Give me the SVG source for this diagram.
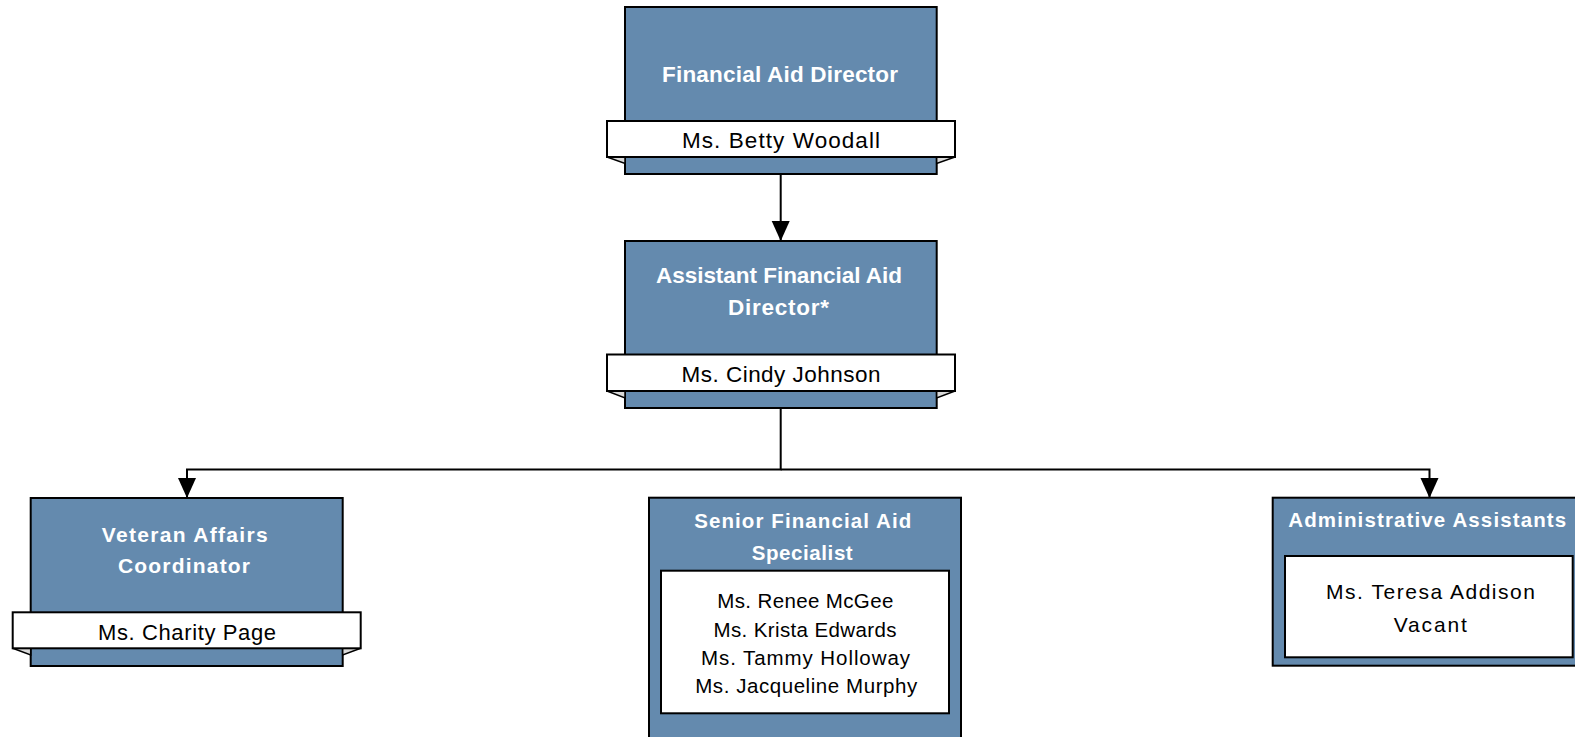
<svg xmlns="http://www.w3.org/2000/svg" width="1575" height="737" viewBox="0 0 1575 737">
<style>
.box{fill:#648aae;stroke:#000;stroke-width:2}
.band{fill:#fff;stroke:#000;stroke-width:2}
.fold{fill:#d9d9d9;stroke:#000;stroke-width:1.5;stroke-linejoin:miter}
.inner{fill:#fff;stroke:#000;stroke-width:2}
.t{font-family:"Liberation Sans",Arial,sans-serif;font-weight:bold;fill:#fff;text-anchor:middle}
.n{font-family:"Liberation Sans",Arial,sans-serif;fill:#000;text-anchor:middle}
.conn{fill:none;stroke:#000;stroke-width:2}
</style>
<defs>
<marker id="arr" markerUnits="userSpaceOnUse" markerWidth="20" markerHeight="19" refX="20" refY="9" orient="auto" viewBox="0 0 20 18">
<path d="M0,0 L20,9 L0,18 z" fill="#000"/>
</marker>
</defs>
<g id="connectors">
<path class="conn" d="M780.7,174 V241" marker-end="url(#arr)"/>
<path class="conn" d="M780.7,408 V469.5 H187 V498" marker-end="url(#arr)"/>
<path class="conn" d="M780.7,469.5 H1429.5 V498" marker-end="url(#arr)"/>
</g>
<g id="node-director">
<rect class="box" x="625" y="7" width="311.7" height="167"/>
<polygon class="fold" points="607,157 625,157 625,163.5"/>
<polygon class="fold" points="955,157 936.7,157 936.7,163.5"/>
<rect class="band" x="607" y="121" width="348" height="36"/>
<text class="t" x="780" y="81.7" font-size="22.5" textLength="236">Financial Aid Director</text>
<text class="n" x="781" y="147.7" font-size="22.5" textLength="198">Ms. Betty Woodall</text>
</g>
<g id="node-assistant">
<rect class="box" x="625" y="241" width="311.7" height="167"/>
<polygon class="fold" points="607,391 625,391 625,398"/>
<polygon class="fold" points="955,391 936.7,391 936.7,398"/>
<rect class="band" x="607" y="354.5" width="348" height="36.5"/>
<text class="t" x="779" y="283.3" font-size="22.5" textLength="246">Assistant Financial Aid</text>
<text class="t" x="778.5" y="315" font-size="22.5" textLength="101">Director*</text>
<text class="n" x="781" y="381.7" font-size="22.5" textLength="199">Ms. Cindy Johnson</text>
</g>
<g id="node-veteran">
<rect class="box" x="30.7" y="498" width="312" height="168"/>
<polygon class="fold" points="12.7,648.3 30.7,648.3 30.7,655"/>
<polygon class="fold" points="360.7,648.3 342.7,648.3 342.7,655"/>
<rect class="band" x="12.7" y="612.3" width="348" height="36"/>
<text class="t" x="184.7" y="541.7" font-size="21" textLength="166">Veteran Affairs</text>
<text class="t" x="184" y="573.3" font-size="21" textLength="132">Coordinator</text>
<text class="n" x="187" y="640" font-size="22" textLength="178">Ms. Charity Page</text>
</g>
<g id="node-senior">
<rect class="box" x="649" y="497.7" width="312" height="250"/>
<rect class="inner" x="661" y="570.7" width="288" height="142.6"/>
<text class="t" x="802.7" y="528.3" font-size="20.5" textLength="217">Senior Financial Aid</text>
<text class="t" x="802.2" y="560" font-size="20.5" textLength="101">Specialist</text>
<text class="n" x="805.3" y="608.3" font-size="20.5" textLength="176">Ms. Renee McGee</text>
<text class="n" x="805" y="636.7" font-size="20.5" textLength="183">Ms. Krista Edwards</text>
<text class="n" x="805.5" y="665" font-size="20.5" textLength="209">Ms. Tammy Holloway</text>
<text class="n" x="806.2" y="693.3" font-size="20.5" textLength="222">Ms. Jacqueline Murphy</text>
</g>
<g id="node-admin">
<rect class="box" x="1272.7" y="497.7" width="313" height="168"/>
<rect class="inner" x="1285" y="556" width="287.7" height="101.3"/>
<text class="t" x="1427.2" y="526.7" font-size="20.5" textLength="278">Administrative Assistants</text>
<text class="n" x="1430.5" y="599.3" font-size="21" textLength="209">Ms. Teresa Addison</text>
<text class="n" x="1430.3" y="631.7" font-size="21" textLength="73">Vacant</text>
</g>
</svg>
